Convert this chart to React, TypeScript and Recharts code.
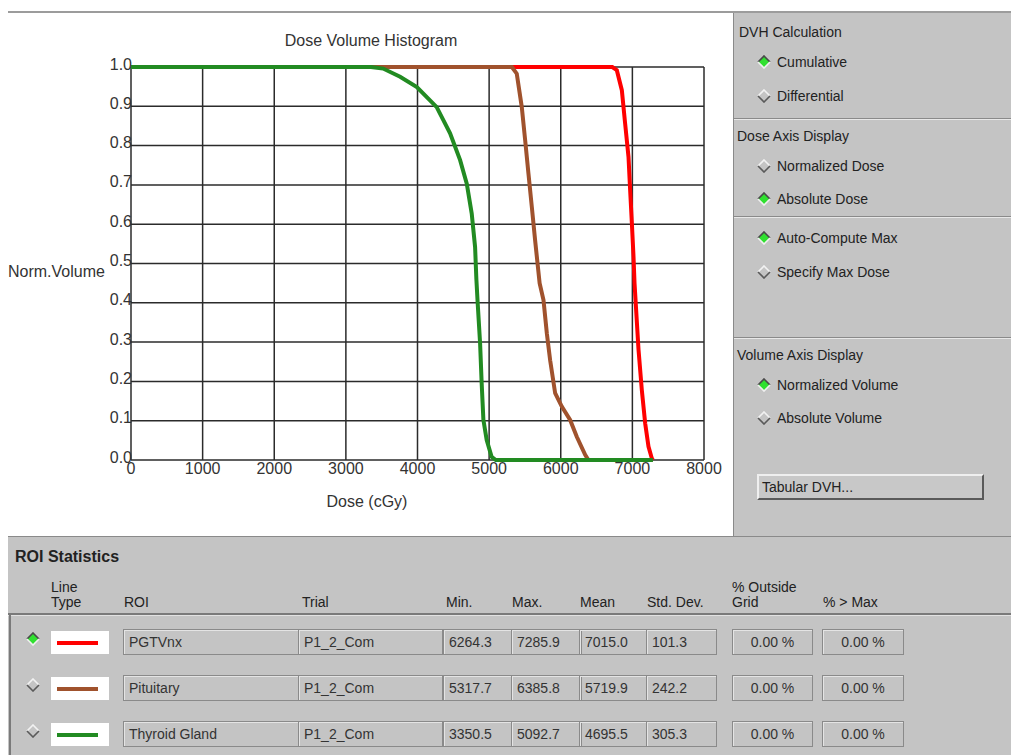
import { LineChart, Line, XAxis, YAxis, CartesianGrid } from "recharts";

// axis ticks
const doseTicks = [0, 1000, 2000, 3000, 4000, 5000, 6000, 7000, 8000];
const volTicks = [0, 0.1, 0.2, 0.3, 0.4, 0.5, 0.6, 0.7, 0.8, 0.9, 1.0];

// DVH curves (dose in cGy, normalized volume)
const pgtvDose = [0, 6264, 6720, 6783, 6853, 6899, 6946, 6969, 6993, 7016, 7030, 7086, 7132, 7179, 7225, 7272, 7286];
const pgtvVol = [1, 1, 1, 0.992, 0.941, 0.856, 0.771, 0.686, 0.602, 0.517, 0.45, 0.28, 0.178, 0.093, 0.034, 0.004, 0];

const pitDose = [0, 5318, 5386, 5456, 5503, 5549, 5596, 5642, 5705, 5759, 5806, 5852, 5922, 6015, 6131, 6224, 6341, 6386, 7286];
const pitVol = [1, 1, 0.983, 0.898, 0.814, 0.729, 0.644, 0.559, 0.45, 0.407, 0.322, 0.254, 0.17, 0.136, 0.102, 0.059, 0.013, 0, 0];

const thyDose = [0, 3350, 3520, 3757, 3991, 4268, 4455, 4595, 4688, 4757, 4804, 4822, 4840, 4874, 4896, 4920, 4966, 5035, 5093, 7286];
const thyVol = [1, 1, 0.996, 0.975, 0.949, 0.898, 0.831, 0.763, 0.703, 0.627, 0.542, 0.46, 0.4, 0.297, 0.195, 0.102, 0.051, 0.008, 0, 0];

// ROI statistics table
const roiNames = ["PGTVnx", "Pituitary", "Thyroid Gland"];
const roiColors = ["#ff0000", "#a0522d", "#228b22"];
const trialNames = ["P1_2_Com", "P1_2_Com", "P1_2_Com"];
const minDose = ["6264.3", "5317.7", "3350.5"];
const maxDose = ["7285.9", "6385.8", "5092.7"];
const meanDose = ["7015.0", "5719.9", "4695.5"];
const stdDev = ["101.3", "242.2", "305.3"];
const pctOutside = ["0.00 %", "0.00 %", "0.00 %"];
const pctAboveMax = ["0.00 %", "0.00 %", "0.00 %"];

const toPoints = (d: number[], v: number[]) => d.map((x, i) => ({ dose: x, vol: v[i] }));

const FONT = "'Liberation Sans', Arial, sans-serif";
const GRAY = "#c4c4c4";

const DoseTick = ({ x, y, payload }: any) => (
  <text x={x} y={y + 14} textAnchor="middle" fontSize={16} fill="#333" fontFamily={FONT}>
    {payload.value}
  </text>
);

const VolTick = ({ x, y, payload }: any) => (
  <text x={x + 1} y={y + 2.5} textAnchor="end" fontSize={16} fill="#333" fontFamily={FONT}>
    {Number(payload.value).toFixed(1)}
  </text>
);

function Diamond({ on, cx, cy }: { on: boolean; cx: number; cy: number }) {
  return (
    <svg width={14} height={14} style={{ position: "absolute", left: cx - 7, top: cy - 7 }}>
      <polygon points="7,1 13,7 7,13 1,7" fill={on ? "#30e030" : GRAY} />
      <polyline points="1,7 7,1 13,7" fill="none" stroke={on ? "#4a4a4a" : "#f2f2f2"} strokeWidth={1.6} />
      <polyline points="1,7 7,13 13,7" fill="none" stroke={on ? "#f0f0f0" : "#5a5a5a"} strokeWidth={1.6} />
    </svg>
  );
}

function Txt({ x, cy, children, bold, size }: any) {
  return (
    <div
      style={{
        position: "absolute",
        left: x,
        top: cy - 9,
        height: 18,
        lineHeight: "18px",
        fontSize: size || 14,
        fontWeight: bold ? "bold" : "normal",
        color: "#222",
        whiteSpace: "nowrap",
      }}
    >
      {children}
    </div>
  );
}

function Radio({ cy, on, label }: { cy: number; on: boolean; label: string }) {
  return (
    <>
      <Diamond on={on} cx={764} cy={cy} />
      <Txt x={777} cy={cy}>{label}</Txt>
    </>
  );
}

function Sep({ top, left, width }: { top: number; left: number; width: number }) {
  return (
    <div style={{ position: "absolute", left, top, width, height: 2 }}>
      <div style={{ height: 1, background: "#8a8a8a" }} />
      <div style={{ height: 1, background: "#e8e8e8" }} />
    </div>
  );
}

function Field({ left, width, top, text, center }: any) {
  return (
    <div
      style={{
        position: "absolute",
        left,
        top,
        width: width - 2,
        height: 24,
        border: "1px solid #8a8a8a",
        boxShadow: "inset 1px 1px 0 #e4e4e4",
        lineHeight: "24px",
        fontSize: 14,
        color: "#333",
        paddingLeft: center ? 0 : 5,
        boxSizing: "content-box",
        textAlign: center ? "center" : "left",
        whiteSpace: "nowrap",
        overflow: "hidden",
      }}
    >
      {text}
    </div>
  );
}

export default function App() {
  const rowTops = [629, 675, 721];
  return (
    <div
      style={{
        position: "absolute",
        left: 0,
        top: 0,
        width: 1011,
        height: 755,
        background: "#fff",
        fontFamily: FONT,
        overflow: "hidden",
      }}
    >
      {/* top window edge */}
      <div style={{ position: "absolute", left: 8, top: 11, width: 1003, height: 2, background: "#9c9c9c" }} />

      {/* chart panel */}
      <div style={{ position: "absolute", left: 8, top: 13, width: 725, height: 524, background: "#fff" }}>
        <LineChart width={725} height={524} margin={{ top: 54, right: 29, bottom: 47, left: 83 }}>
          <CartesianGrid stroke="#2b2b2b" strokeWidth={1.5} />
          <XAxis
            type="number"
            dataKey="dose"
            domain={[0, 8000]}
            ticks={doseTicks}
            interval={0}
            height={30}
            tickSize={0}
            tickMargin={0}
            axisLine={false}
            tickLine={false}
            tick={<DoseTick />}
          />
          <YAxis
            type="number"
            dataKey="vol"
            domain={[0, 1]}
            ticks={volTicks}
            interval={0}
            width={40}
            tickSize={0}
            tickMargin={0}
            axisLine={false}
            tickLine={false}
            tick={<VolTick />}
          />
          <Line data={toPoints(pgtvDose, pgtvVol)} dataKey="vol" type="linear" stroke={roiColors[0]} strokeWidth={4} dot={false} isAnimationActive={false} />
          <Line data={toPoints(pitDose, pitVol)} dataKey="vol" type="linear" stroke={roiColors[1]} strokeWidth={4} dot={false} isAnimationActive={false} />
          <Line data={toPoints(thyDose, thyVol)} dataKey="vol" type="linear" stroke={roiColors[2]} strokeWidth={4} dot={false} isAnimationActive={false} />
        </LineChart>
      </div>
      <div style={{ position: "absolute", left: 271, width: 200, top: 31, textAlign: "center", fontSize: 16, color: "#333", lineHeight: "20px" }}>
        Dose Volume Histogram
      </div>
      <div style={{ position: "absolute", left: 267, width: 200, top: 492, textAlign: "center", fontSize: 16, color: "#333", lineHeight: "20px" }}>
        Dose (cGy)
      </div>
      <div style={{ position: "absolute", left: 8, top: 262, fontSize: 16, color: "#333", lineHeight: "20px" }}>Norm.Volume</div>

      {/* right options panel */}
      <div style={{ position: "absolute", left: 733, top: 13, width: 278, height: 524, background: GRAY, borderLeft: "1px solid #8a8a8a" }} />
      <Txt x={739} cy={32}>DVH Calculation</Txt>
      <Radio cy={62} on={true} label="Cumulative" />
      <Radio cy={96} on={false} label="Differential" />
      <Sep top={118} left={734} width={277} />
      <Txt x={737} cy={136}>Dose Axis Display</Txt>
      <Radio cy={166} on={false} label="Normalized Dose" />
      <Radio cy={199} on={true} label="Absolute Dose" />
      <Sep top={216} left={734} width={277} />
      <Radio cy={238} on={true} label="Auto-Compute Max" />
      <Radio cy={272} on={false} label="Specify Max Dose" />
      <Sep top={337} left={734} width={277} />
      <Txt x={737} cy={355}>Volume Axis Display</Txt>
      <Radio cy={385} on={true} label="Normalized Volume" />
      <Radio cy={418} on={false} label="Absolute Volume" />
      <div
        style={{
          position: "absolute",
          left: 757,
          top: 474,
          width: 220,
          height: 22,
          background: "#c8c8c8",
          borderTop: "2px solid #efefef",
          borderLeft: "2px solid #efefef",
          borderBottom: "2px solid #5a5a5a",
          borderRight: "2px solid #5a5a5a",
          fontSize: 14,
          lineHeight: "22px",
          paddingLeft: 3,
          color: "#222",
          boxSizing: "content-box",
        }}
      >
        Tabular DVH...
      </div>

      {/* ROI statistics panel */}
      <div style={{ position: "absolute", left: 8, top: 536, width: 1003, height: 219, background: GRAY, borderTop: "1px solid #8a8a8a" }} />
      <Txt x={15} cy={557} bold size={16}>ROI Statistics</Txt>
      <Txt x={51} cy={587}>Line</Txt>
      <Txt x={51} cy={602}>Type</Txt>
      <Txt x={124} cy={602}>ROI</Txt>
      <Txt x={302} cy={602}>Trial</Txt>
      <Txt x={446} cy={602}>Min.</Txt>
      <Txt x={512} cy={602}>Max.</Txt>
      <Txt x={580} cy={602}>Mean</Txt>
      <Txt x={647} cy={602}>Std. Dev.</Txt>
      <Txt x={732} cy={587}>% Outside</Txt>
      <Txt x={732} cy={602}>Grid</Txt>
      <Txt x={823} cy={602}>% &gt; Max</Txt>
      <div style={{ position: "absolute", left: 8, top: 613, width: 1003, height: 3 }}>
        <div style={{ height: 2, background: "#7a7a7a" }} />
        <div style={{ height: 1, background: "#e2e2e2" }} />
      </div>
      <div style={{ position: "absolute", left: 9, top: 615, width: 2, height: 140, background: "#7a7a7a" }} />

      {roiNames.map((name, i) => {
        const top = rowTops[i];
        return (
          <div key={name}>
            <Diamond on={i === 0} cx={33} cy={top + 10} />
            <div style={{ position: "absolute", left: 51, top: top + 2, width: 58, height: 23, background: "#fff" }}>
              <div style={{ position: "absolute", left: 6, top: 10, width: 41, height: 4, background: roiColors[i] }} />
            </div>
            <Field left={123} width={172} top={top} text={name} />
            <Field left={298} width={140} top={top} text={trialNames[i]} />
            <Field left={443} width={65} top={top} text={minDose[i]} />
            <Field left={511} width={66} top={top} text={maxDose[i]} />
            <Field left={579} width={64} top={top} text={meanDose[i]} />
            <Field left={646} width={66} top={top} text={stdDev[i]} />
            <Field left={732} width={81} top={top} text={pctOutside[i]} center />
            <Field left={822} width={82} top={top} text={pctAboveMax[i]} center />
          </div>
        );
      })}
    </div>
  );
}
